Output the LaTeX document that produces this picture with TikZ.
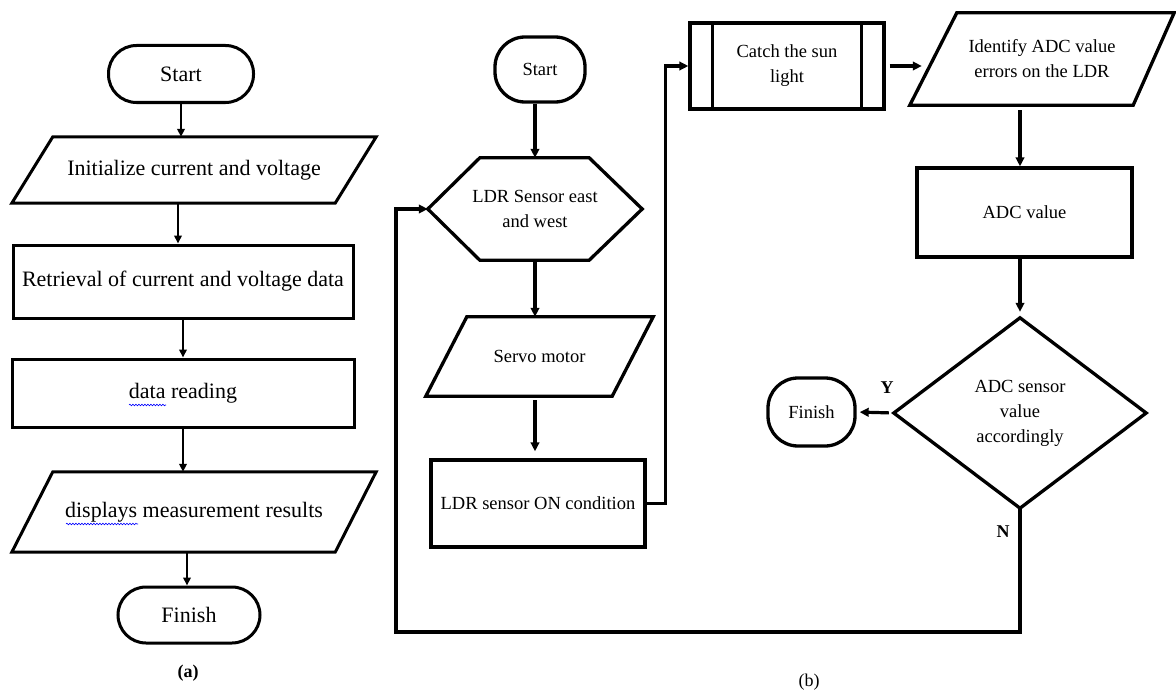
\documentclass[tikz,border=0pt]{standalone}
\usepackage{fontspec}
\setmainfont{Liberation Serif}
\usetikzlibrary{arrows.meta,decorations.pathmorphing}
\tikzset{
  txtA/.style={inner sep=0pt, align=center, font=\fontsize{22}{26}\selectfont},
  txtB/.style={inner sep=0pt, align=center, font=\fontsize{18.5}{25}\selectfont},
  shpA/.style={draw, line width=3pt},
  shpB/.style={draw, line width=3.3pt},
  arrA/.style={line width=2.3pt, -{Triangle[length=8pt,width=7.5pt]}},
  arrB/.style={line width=3.2pt, -{Triangle[length=9pt,width=8.5pt]}},
  lbl/.style={inner sep=0pt, font=\fontsize{18}{20}\selectfont\bfseries},
  wavy/.style={blue, line width=0.6pt, decorate, decoration={snake, amplitude=0.8pt, segment length=3pt}}
}
\begin{document}
\begin{tikzpicture}[x=1pt,y=-1pt]
\useasboundingbox (0,0) rectangle (1176,693);

% ---------- (a) ----------
\node[txtA, shpA, rounded corners=28pt, minimum width=145pt, minimum height=57pt] (startA) at (181,74) {Start};
\node[txtA, minimum width=364pt, minimum height=66pt] (initA) at (194,170) {Initialize current and voltage};
\draw[shpA] ([xshift=41pt]initA.north west) -- (initA.north east) -- ([xshift=-41pt]initA.south east) -- (initA.south west) -- cycle;
\node[txtA, shpA, minimum width=340pt, minimum height=73pt] (retA) at (183,281.5) {Retrieval of current and voltage data};
\node[txtA, shpA, minimum width=342pt, minimum height=68pt] (dataA) at (183,393) {data reading};
\node[txtA, minimum width=364pt, minimum height=80pt] (dispA) at (194,512) {displays measurement results};
\draw[shpA] ([xshift=41pt]dispA.north west) -- (dispA.north east) -- ([xshift=-41pt]dispA.south east) -- (dispA.south west) -- cycle;
\node[txtA, shpA, rounded corners=28pt, minimum width=142pt, minimum height=56pt] (finA) at (189,615) {Finish};
\draw[wavy] (129,405) -- (166,405);
\draw[wavy] (66,524) -- (138,524);

\draw[arrA] (startA.south) -- (startA.south |- initA.north);
\draw[arrA] ([xshift=-16pt]initA.south) -- ([xshift=-16pt]initA.south |- retA.north);
\draw[arrA] (retA.south) -- (dataA.north);
\draw[arrA] (dataA.south) -- (dataA.south |- dispA.north);
\draw[arrA] ([xshift=-2pt]finA.north |- dispA.south) -- ([xshift=-2pt]finA.north);

\node[lbl] (labA) at (188,673) {(a)};

% ---------- (b) ----------
\node[txtB, shpB, rounded corners=30pt, minimum width=90pt, minimum height=65pt] (startB) at (540,69.5) {Start};
\node[txtB, minimum width=214pt, minimum height=102pt] (hexB) at (535,209) {LDR Sensor east\\and west};
\draw[shpB] (hexB.west) -- ([xshift=52pt]hexB.north west) -- ([xshift=-53pt]hexB.north east) -- (hexB.east) -- ([xshift=-53pt]hexB.south east) -- ([xshift=52pt]hexB.south west) -- cycle;
\node[txtB, minimum width=227pt, minimum height=79pt] (servoB) at (539.5,356.5) {Servo motor};
\draw[shpB] ([xshift=41pt]servoB.north west) -- (servoB.north east) -- ([xshift=-41pt]servoB.south east) -- (servoB.south west) -- cycle;
\node[txtB, shpB, minimum width=214pt, minimum height=87pt] (ldrOnB) at (538,503.5) {LDR sensor ON condition};
\node[txtB, shpB, minimum width=194pt, minimum height=86pt] (catchB) at (787,66) {Catch the sun\\light};
\draw[shpB] ([xshift=24pt]catchB.north west) -- ([xshift=24pt]catchB.south west);
\draw[shpB] ([xshift=-24pt]catchB.north east) -- ([xshift=-24pt]catchB.south east);
\node[txtB, minimum width=264pt, minimum height=92pt] (identB) at (1042,59) {Identify ADC value\\errors on the LDR};
\draw[shpB] ([xshift=47pt]identB.north west) -- (identB.north east) -- ([xshift=-41pt]identB.south east) -- (identB.south west) -- cycle;
\node[txtB, shpB, minimum width=215pt, minimum height=89pt] (adcB) at (1024.5,212.5) {ADC value};
\node[txtB, minimum width=252pt, minimum height=190pt] (diaB) at (1020,413) {ADC sensor\\value\\accordingly};
\draw[shpB] (diaB.north) -- (diaB.east) -- (diaB.south) -- (diaB.west) -- cycle;
\node[txtB, shpB, rounded corners=30pt, minimum width=87pt, minimum height=68pt] (finB) at (811.5,412) {Finish};

\draw[arrB] (hexB.north |- startB.south) -- (hexB.north);
\draw[arrB] (hexB.south) -- (hexB.south |- servoB.north);
\draw[arrB, shorten <=4pt, shorten >=7pt] (hexB.south |- servoB.south) -- (hexB.south |- ldrOnB.north);
\draw[arrB] (ldrOnB.east) -| ([xshift=-23pt]catchB.west) -- (catchB.west);
\draw[arrB, shorten <=4pt] (catchB.east) -- ([xshift=12pt]identB.west |- catchB.east);
\draw[arrB, shorten <=5pt] (diaB.north |- identB.south) -- (diaB.north |- adcB.north);
\draw[arrB, shorten >=6pt] (diaB.north |- adcB.south) -- (diaB.north);
\draw[arrB, shorten <=5pt, shorten >=3pt] (diaB.west) -- (finB.east);
\coordinate (loopR) at (1020,632);
\coordinate (loopL) at (396,632);
\draw[arrB] (diaB.south) -- (loopR) -- (loopL) |- (hexB.west);

\node[lbl] (labY) at (887,388) {Y};
\node[lbl] (labN) at (1003,532) {N};
\node[inner sep=0pt, font=\fontsize{18}{20}\selectfont] (labB) at (809,682) {(b)};
\end{tikzpicture}
\end{document}
